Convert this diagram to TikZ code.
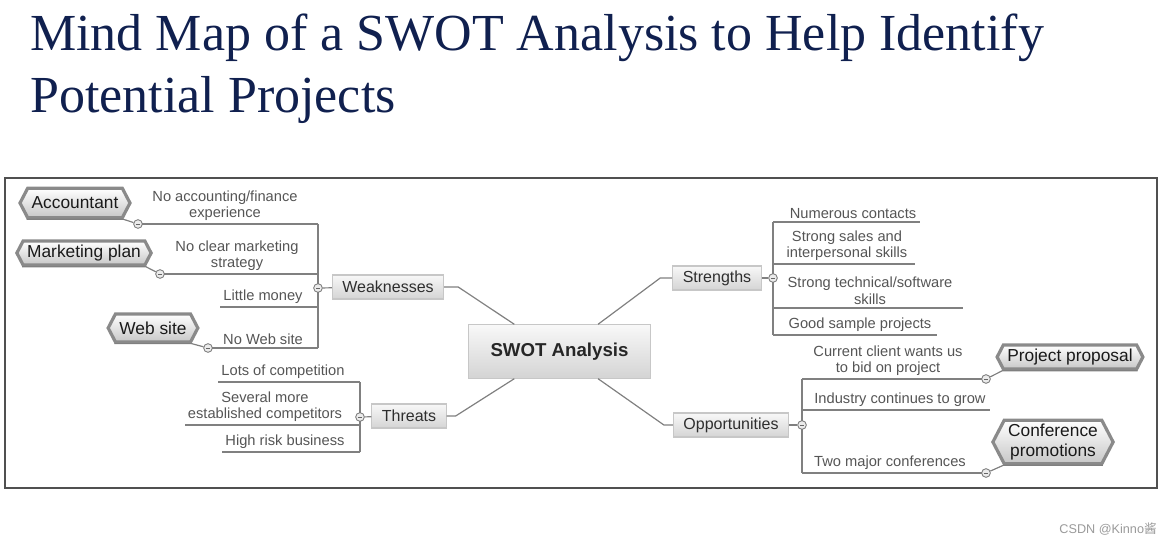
\documentclass[tikz,border=0pt]{standalone}
\usepackage{fontspec}
\setmainfont{Liberation Serif}
\setsansfont{Liberation Sans}
\newfontfamily\cjkfont{Noto Sans CJK SC}
\usetikzlibrary{shapes.symbols}
\definecolor{colTitle}{HTML}{10204F}
\definecolor{colLine}{HTML}{808080}
\definecolor{colLeaf}{HTML}{555555}
\definecolor{colBranch}{HTML}{2E2E2E}
\definecolor{colFrame}{HTML}{505050}
\definecolor{colBoxTop}{HTML}{F8F8F8}
\definecolor{colBoxBot}{HTML}{D4D4D4}
\definecolor{colTag}{HTML}{8A8A8A}
\definecolor{colMark}{HTML}{9A9A9A}
\def\titlefont{\rmfamily\fontsize{39pt}{46pt}\selectfont}
\def\rootfont{\sffamily\bfseries\fontsize{14pt}{17pt}\selectfont}
\def\brfont{\sffamily\fontsize{12pt}{14pt}\selectfont}
\def\leaffont{\sffamily\fontsize{11pt}{12.5pt}\selectfont}
\def\tagfont{\sffamily\fontsize{13pt}{14.5pt}\selectfont}
\def\markfont{\sffamily\fontsize{9.5pt}{11pt}\selectfont}
\tikzset{
  link/.style={draw=colLine, line width=0.9pt},
  rootbox/.style={rectangle, draw=black!22, line width=0.8pt, top color=colBoxTop,
    bottom color=colBoxBot, font=\rootfont, text=black!85,
    minimum width=137pt, minimum height=40pt},
  branchbox/.style={rectangle, draw=black!22, line width=0.8pt, top color=colBoxTop,
    bottom color=colBoxBot, font=\brfont, text=colBranch,
    inner xsep=7.5pt, minimum height=18pt},
  leaftext/.style={font=\leaffont, text=colLeaf, align=center, inner sep=0pt},
  tagbox/.style={signal, signal to=west and east, signal pointer angle=125,
    draw=colTag, line width=2.4pt, top color=white, bottom color=black!22,
    font=\tagfont, text=black!90, align=center, inner xsep=3pt, inner ysep=3pt},
  toggle/.style={circle, draw=black!55, line width=0.6pt, fill=black!8,
    minimum size=6.5pt, inner sep=0pt,
    path picture={\draw[black!60, line width=0.5pt]
      ([xshift=1.6pt]path picture bounding box.west) --
      ([xshift=-1.6pt]path picture bounding box.east);}},
}
% #1 name, #2 spine x, #3 line y, #4 far end x, #5 text x, #6 text
\newcommand{\twig}[6]{%
  \coordinate (#1s) at (#2,#3);%
  \coordinate (#1e) at (#4,#3);%
  \draw[link] (#1s) -- (#1e);%
  \node[leaftext, anchor=south] (#1) at (#5,{#3-3}) {#6};}

\begin{document}
\begin{tikzpicture}[x=0.75pt, y=-0.75pt]
\useasboundingbox (0,0) rectangle (1173,545);

% ===================== TITLE =====================
\node[anchor=base west, font=\titlefont, text=colTitle, inner sep=0pt] (title1) at (30,51)
  {Mind Map of a SWOT Analysis to Help Identify};
\node[anchor=base west, font=\titlefont, text=colTitle, inner sep=0pt] (title2) at (30,113)
  {Potential Projects};

\draw[draw=colFrame, line width=1.2pt] (5,178) rectangle (1157,488);

% ===================== CENTRE AND BRANCHES =====================
\node[rootbox] (root) at (559.5,351.5) {SWOT Analysis};
\node[branchbox] (wk) at (388,287) {Weaknesses};
\node[branchbox] (st) at (717,278) {Strengths};
\node[branchbox] (th) at (409,416) {Threats};
\node[branchbox] (op) at (731,425) {Opportunities};

\draw[link] (wk.east) -- ++(14,0) -- ([xshift=35pt]root.north west);
\draw[link] (st.west) -- ++(-12,0) -- ([xshift=-40pt]root.north east);
\draw[link] (th.east) -- ++(9,0) -- ([xshift=35pt]root.south west);
\draw[link] (op.west) -- ++(-9,0) -- ([xshift=-40pt]root.south east);

% ===================== WEAKNESSES =====================
\coordinate (wTop) at (318,224);
\coordinate (wBot) at (318,348);
\draw[link] (wTop) -- (wBot);
\twig{w1}{318}{224}{138}{225}{No accounting/finance\\experience}
\twig{w2}{318}{274}{160}{237}{No clear marketing\\strategy}
\twig{w3}{318}{307}{220}{263}{Little money}
\twig{w4}{318}{348}{208}{263}{No Web site}
\node[toggle] (tW) at (318,288) {};
\draw[link] (tW) -- (wk);

\node[tagbox, minimum height=22pt] (acc) at (75,203) {Accountant};
\node[tagbox] (mkt) at (84,253) {Marketing plan};
\node[tagbox, minimum height=21pt] (web) at (153,328) {Web site};
\node[toggle] (tAcc) at (w1e) {};
\node[toggle] (tMkt) at (w2e) {};
\node[toggle] (tWeb) at (w4e) {};
\draw[link] (tAcc) -- (acc.south east) -- (acc.south west);
\draw[link] (tMkt) -- (mkt.south east) -- (mkt.south west);
\draw[link] (tWeb) -- (web.south east) -- (web.south west);

% ===================== THREATS =====================
\coordinate (tTop) at (360,382);
\coordinate (tBot) at (360,452);
\draw[link] (tTop) -- (tBot);
\twig{t1}{360}{382}{218}{283}{Lots of competition}
\twig{t2}{360}{425}{185}{265}{Several more\\established competitors}
\twig{t3}{360}{452}{222}{285}{High risk business}
\node[toggle] (tT) at (360,417) {};
\draw[link] (tT) -- (th);

% ===================== STRENGTHS =====================
\coordinate (sTop) at (773,222);
\coordinate (sBot) at (773,335);
\draw[link] (sTop) -- (sBot);
\twig{s1}{773}{222}{920}{853}{Numerous contacts}
\twig{s2}{773}{264}{915}{847}{Strong sales and\\interpersonal skills}
\twig{s3}{773}{308}{963}{870}{Strong technical/software\\skills}
\twig{s4}{773}{335}{937}{860}{Good sample projects}
\node[toggle] (tS) at (773,278) {};
\draw[link] (tS) -- (st);

% ===================== OPPORTUNITIES =====================
\coordinate (oTop) at (802,379);
\coordinate (oBot) at (802,473);
\draw[link] (oTop) -- (oBot);
\twig{o1}{802}{379}{986}{888}{Current client wants us\\to bid on project}
\twig{o2}{802}{410}{990}{900}{Industry continues to grow}
\twig{o3}{802}{473}{986}{890}{Two major conferences}
\node[toggle] (tO) at (802,425) {};
\draw[link] (tO) -- (op);

\node[tagbox] (prop) at (1070,357) {Project proposal};
\node[tagbox] (conf) at (1053,442) {Conference\\promotions};
\node[toggle] (tProp) at (o1e) {};
\node[toggle] (tConf) at (o3e) {};
\draw[link] (tProp) -- (prop.south west) -- (prop.south east);
\draw[link] (tConf) -- (conf.south west) -- (conf.south east);

\node[anchor=base east, font=\markfont, text=colMark, inner sep=0pt] (mark) at (1157,533)
  {CSDN @Kinno{\cjkfont 酱}};

\end{tikzpicture}
\end{document}
